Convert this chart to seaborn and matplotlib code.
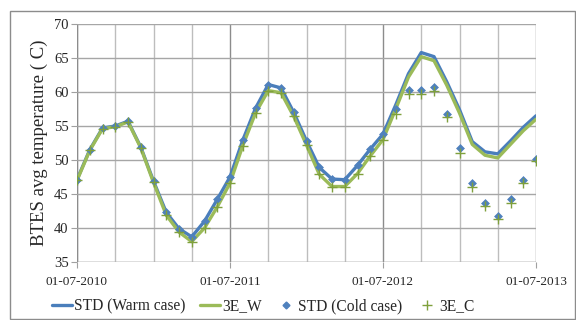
import numpy as np
import pandas as pd
import matplotlib
matplotlib.use("Agg")
import matplotlib.pyplot as plt
from matplotlib.patches import Rectangle
from matplotlib.lines import Line2D
import seaborn as sns

# ---- data (monthly, 01-07-2010 .. 01-07-2013) ----
months = list(range(37))
tick_pos = [0, 12, 24, 36]
tick_labels = ["01-07-2010", "01-07-2011", "01-07-2012", "01-07-2013"]

std_warm = [47.1, 51.5, 54.7, 55.0, 55.7, 51.9, 46.9, 42.3, 39.9, 38.7, 41.0, 44.2,
            47.5, 52.9, 57.6, 61.1, 60.6, 57.0, 52.8, 48.9, 47.2, 47.1, 49.2, 51.6,
            53.8, 58.1, 62.7, 65.8, 65.2, 61.5, 57.4, 52.7, 51.2, 50.9, 52.8, 54.8, 56.5]
e3_w = [47.0, 51.4, 54.6, 54.9, 55.6, 51.8, 46.7, 41.9, 39.4, 38.0, 40.0, 43.1,
        46.6, 52.1, 56.9, 60.2, 59.9, 56.4, 52.2, 47.9, 46.1, 46.1, 48.0, 50.6,
        53.0, 57.5, 62.2, 65.2, 64.6, 61.0, 56.9, 52.3, 50.7, 50.3, 52.3, 54.3, 56.0]
std_cold = [47.1, 51.5, 54.7, 55.0, 55.7, 51.9, 46.9, 42.3, 39.9, 38.7, 41.0, 44.2,
            47.5, 52.9, 57.6, 61.1, 60.6, 57.0, 52.8, 48.9, 47.2, 47.1, 49.2, 51.6,
            53.8, 57.5, 60.3, 60.3, 60.8, 56.8, 51.7, 46.6, 43.7, 41.8, 44.2, 47.1, 50.2]
e3_c = [47.0, 51.4, 54.6, 54.9, 55.6, 51.8, 46.7, 41.9, 39.4, 38.0, 40.0, 43.1,
        46.6, 52.1, 56.9, 60.2, 59.9, 56.4, 52.2, 47.9, 46.1, 46.1, 48.0, 50.6,
        53.0, 56.8, 59.7, 59.7, 60.2, 56.3, 51.1, 46.0, 43.2, 41.3, 43.7, 46.6, 49.8]

df = pd.DataFrame({"m": months, "warm": std_warm, "e3w": e3_w,
                   "cold": std_cold, "e3c": e3_c})

sns.set_style("white")
plt.rcParams["font.family"] = ["Liberation Serif", "DejaVu Serif"]

BLUE = "#4A7EBB"
GREEN = "#9BBB59"
DIAM = "#4F81BD"
PLUS = "#7FA03C"

fig = plt.figure(figsize=(5.76, 3.2), dpi=100)
ax = fig.add_axes([77/576, 1-262/320, (536-77)/576, (262-24)/320])

# grid
ax.set_xlim(0, 36)
ax.set_ylim(35, 70)
ax.set_yticks(np.arange(35, 71, 5))
ax.set_xticks(tick_pos)
ax.set_xticks(np.arange(0, 37, 3), minor=True)
ax.set_xticklabels(tick_labels)
ax.grid(True, axis="y", color="#A6A6A6", lw=1.0, zorder=0)
ax.grid(True, axis="x", which="minor", color="#BDBDBD", lw=1.0, zorder=0)
ax.grid(True, axis="x", which="major", color="#8C8C8C", lw=1.0, zorder=0)
for s in ax.spines.values():
    s.set_visible(False)
ax.axvline(0, color="#A0A0A0", lw=1.0, zorder=0.5)
ax.axhline(35, color="#A0A0A0", lw=1.0, zorder=0.5)

sns.lineplot(data=df, x="m", y="warm", ax=ax, color=BLUE, lw=2.4, zorder=3)
sns.lineplot(data=df, x="m", y="e3w", ax=ax, color=GREEN, lw=2.4, zorder=4)
sns.scatterplot(data=df, x="m", y="cold", ax=ax, color=DIAM, marker="D", s=16,
                edgecolor=DIAM, linewidth=0.5, zorder=5)
sns.scatterplot(data=df, x="m", y="e3c", ax=ax, color=PLUS, marker="+", s=45,
                linewidth=1.0, zorder=6)

ax.set_xlabel("")
ax.set_ylabel("BTES avg temperature ( C)", fontsize=13.5, labelpad=4)
ax.tick_params(axis="y", which="major", length=4, color="#A0A0A0", labelsize=10.5,
               pad=2, left=True, direction="out")
ax.tick_params(axis="x", which="major", length=4, color="#A0A0A0", labelsize=9.5,
               pad=6, bottom=True, direction="out")
ax.tick_params(axis="x", which="minor", length=0)

handles = [
    Line2D([], [], color=BLUE, lw=2.4),
    Line2D([], [], color=GREEN, lw=2.4),
    Line2D([], [], color=DIAM, marker="D", ls="none", markersize=3.5),
    Line2D([], [], color=PLUS, marker="+", ls="none", markersize=7, mew=1.0),
]
labels = ["STD (Warm case)", "3E_W", "STD (Cold case)", "3E_C"]
fig.legend(handles, labels, loc="center", bbox_to_anchor=(263/576, 14/320), ncol=4,
           frameon=False, fontsize=11.2, handlelength=1.3, handletextpad=0.15,
           columnspacing=0.9, borderaxespad=0)

fig.patches.append(Rectangle((10/576, 0.002), 565/576, 0.965, transform=fig.transFigure,
                             fill=False, edgecolor="#8C8C8C", lw=1.0))

fig.savefig("out.png", dpi=100)
